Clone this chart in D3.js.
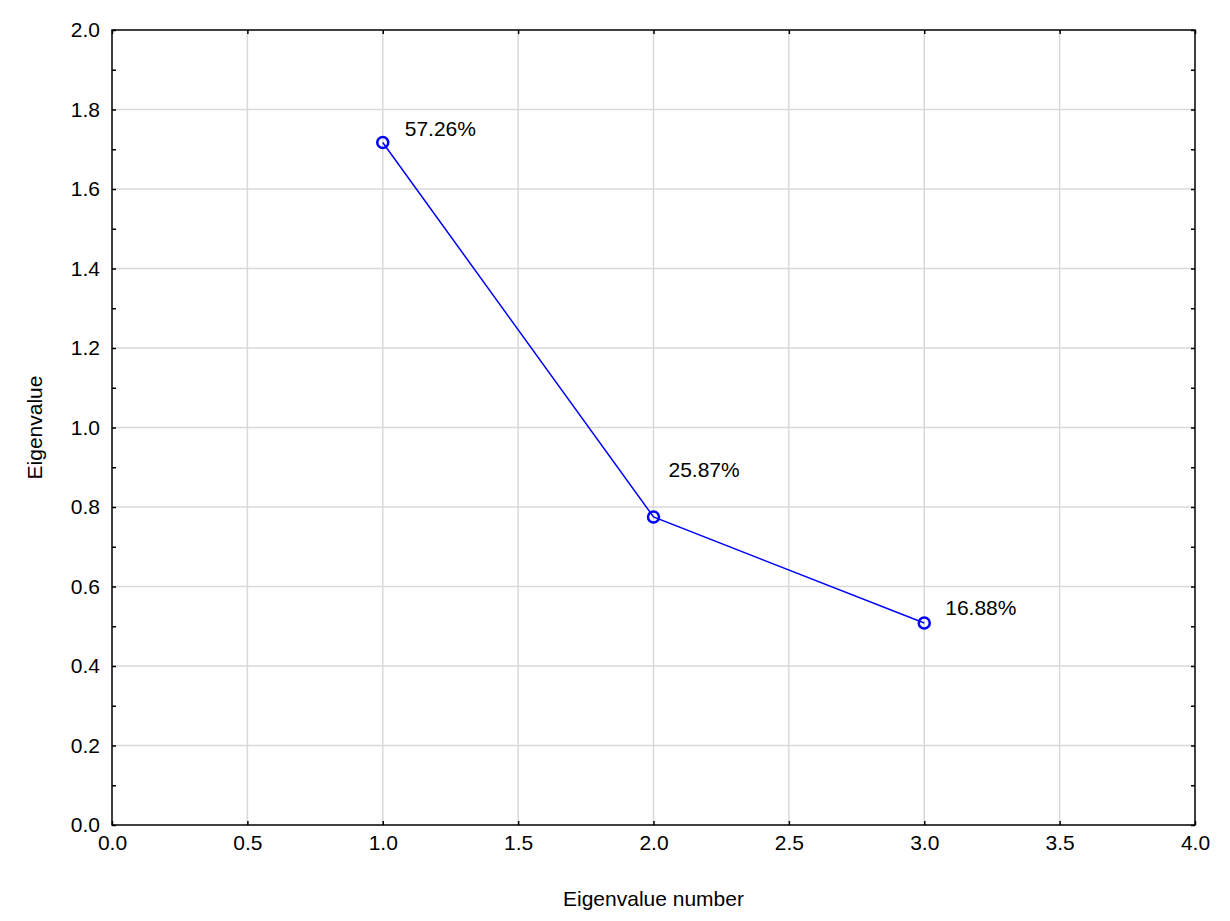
<!DOCTYPE html>
<html>
<head>
<meta charset="utf-8">
<script src="https://cdn.jsdelivr.net/npm/d3@7"></script>
<style>
  body { margin: 0; background: #fff; }
  text { font-family: "Liberation Sans", Arial, sans-serif; }
</style>
</head>
<body>
<div id="chart"></div>
<script>
// data
var eigenNumbers = [1, 2, 3];
var eigenValues = [1.717, 0.775, 0.508];
var pctLabels = ["57.26%", "25.87%", "16.88%"];
var xTicks = [0, 0.5, 1, 1.5, 2, 2.5, 3, 3.5, 4];
var yTicks = [0, 0.2, 0.4, 0.6, 0.8, 1.0, 1.2, 1.4, 1.6, 1.8, 2.0];

var width = 1230, height = 921;
var mLeft = 112, mRight = 1195, mTop = 30, mBottom = 825;
var fs = 21;

var svg = d3.select("#chart").append("svg")
  .attr("width", width).attr("height", height);

var x = d3.scaleLinear().domain([0, 4]).range([mLeft, mRight]);
var y = d3.scaleLinear().domain([0, 2]).range([mBottom, mTop]);

// gridlines
svg.append("g").selectAll("line").data(xTicks.slice(1, -1)).enter().append("line")
  .attr("x1", d => x(d)).attr("x2", d => x(d))
  .attr("y1", mTop).attr("y2", mBottom)
  .attr("stroke", "#d9d9d9").attr("stroke-width", 1.5);
svg.append("g").selectAll("line").data(yTicks.slice(1, -1)).enter().append("line")
  .attr("y1", d => y(d)).attr("y2", d => y(d))
  .attr("x1", mLeft).attr("x2", mRight)
  .attr("stroke", "#d9d9d9").attr("stroke-width", 1.5);

// axes (inward ticks)
var fmt = d3.format(".1f");
var minorY = d3.range(0, 2.001, 0.1);
function styleAxis(g) {
  g.select(".domain").remove();
  g.selectAll("line").attr("stroke", "#000").attr("stroke-width", 1.5);
  g.selectAll("text").attr("font-size", fs).attr("fill", "#000")
    .attr("font-family", "Liberation Sans, Arial, sans-serif");
}
svg.append("g").attr("transform", "translate(" + mLeft + ",0)")
  .call(d3.axisLeft(y).tickValues(minorY).tickSize(-4).tickPadding(12)
    .tickFormat(d => yTicks.some(t => Math.abs(t - d) < 1e-6) ? fmt(d) : ""))
  .call(styleAxis);
svg.append("g").attr("transform", "translate(" + mRight + ",0)")
  .call(d3.axisRight(y).tickValues(minorY).tickSize(-4).tickFormat(""))
  .call(styleAxis);
svg.append("g").attr("transform", "translate(0," + mBottom + ")")
  .call(d3.axisBottom(x).tickValues(xTicks).tickSize(-4).tickPadding(10).tickFormat(fmt))
  .call(styleAxis);
svg.append("g").attr("transform", "translate(0," + mTop + ")")
  .call(d3.axisTop(x).tickValues(xTicks).tickSize(-4).tickFormat(""))
  .call(styleAxis);

// frame
svg.append("rect").attr("x", mLeft).attr("y", mTop)
  .attr("width", mRight - mLeft).attr("height", mBottom - mTop)
  .attr("fill", "none").attr("stroke", "#000").attr("stroke-width", 1.5);

// line + points
var pts = eigenNumbers.map((n, i) => ({ n: n, v: eigenValues[i], label: pctLabels[i] }));
svg.append("path").datum(pts)
  .attr("d", d3.line().x(d => x(d.n)).y(d => y(d.v)))
  .attr("fill", "none").attr("stroke", "#0000ff").attr("stroke-width", 1.5);
svg.selectAll(".pt").data(pts).enter().append("circle")
  .attr("cx", d => x(d.n)).attr("cy", d => y(d.v)).attr("r", 5.5)
  .attr("fill", "none").attr("stroke", "#0000ff").attr("stroke-width", 2.5);

var labelOffsets = [[22, -6], [15, -40], [21, -8]];
svg.selectAll(".lbl").data(pts).enter().append("text")
  .attr("x", (d, i) => x(d.n) + labelOffsets[i][0])
  .attr("y", (d, i) => y(d.v) + labelOffsets[i][1])
  .attr("font-size", fs).attr("fill", "#000")
  .text(d => d.label);

// axis titles
svg.append("text").attr("x", (mLeft + mRight) / 2).attr("y", 906)
  .attr("text-anchor", "middle").attr("font-size", fs).text("Eigenvalue number");
svg.append("text").attr("transform", "translate(42," + (mTop + mBottom) / 2 + ") rotate(-90)")
  .attr("text-anchor", "middle").attr("font-size", fs).text("Eigenvalue");
</script>
</body>
</html>
